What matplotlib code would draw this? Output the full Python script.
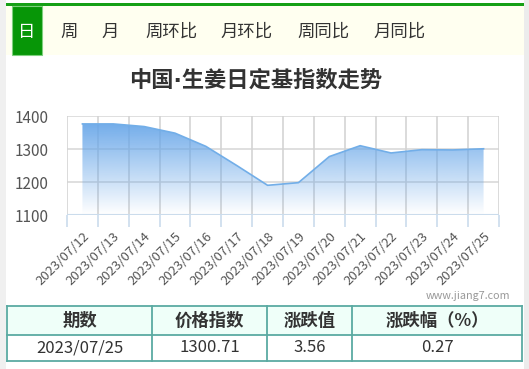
import numpy as np
import matplotlib
matplotlib.use('Agg')
import matplotlib.pyplot as plt
from matplotlib.patches import Rectangle

plt.rcParams['font.family'] = ['Noto Sans CJK SC', 'DejaVu Sans']

# data
dates = ['2023/07/12', '2023/07/13', '2023/07/14', '2023/07/15', '2023/07/16',
         '2023/07/17', '2023/07/18', '2023/07/19', '2023/07/20', '2023/07/21',
         '2023/07/22', '2023/07/23', '2023/07/24', '2023/07/25']
values = [1376, 1376, 1368, 1348, 1308, 1250, 1190, 1198, 1277, 1310,
          1288, 1298, 1297.15, 1300.71]
tabs = ['日', '周', '月', '周环比', '月环比', '周同比', '月同比']
tab_x = [27, 69, 110, 171, 247, 323, 400]
title = '中国·生姜日定基指数走势'
table_head = ['期数', '价格指数', '涨跌值', '涨跌幅（%）']
table_row = ['2023/07/25', '1300.71', '3.56', '0.27']
col_edges = [7, 152, 267, 352, 522]

W, H = 529, 369
fig = plt.figure(figsize=(W / 100, H / 100), dpi=100)
fig.patch.set_facecolor('white')

# background layer in pixel coords
bg = fig.add_axes([0, 0, 1, 1])
bg.set_xlim(0, W)
bg.set_ylim(H, 0)
bg.axis('off')

bg.add_patch(Rectangle((0, 0), 6, H, color='#f0f0f0', lw=0))
bg.add_patch(Rectangle((524, 0), 5, H, color='#ececec', lw=0))
bg.add_patch(Rectangle((6, 3), 518, 2.5, color='#16a016', lw=0))
bg.add_patch(Rectangle((6, 5.5), 518, 49.5, color='#fffff0', lw=0))
bg.add_patch(Rectangle((12, 5.5), 30, 49.5, facecolor='#079607', edgecolor='#7ed07e', lw=0.8))
for i, t in enumerate(tabs):
    bg.text(tab_x[i], 32, t, ha='center', va='center', fontsize=12.5,
            color='white' if i == 0 else '#333333')

# narrow middle dot from DejaVu, CJK glyphs fall back to Noto
bg.text(256, 80, title, ha='center', va='center', fontsize=16,
        fontweight='bold', color='#333333',
        family=['DejaVu Sans', 'Noto Sans CJK SC'])
bg.text(510, 296, 'www.jiang7.com', ha='right', va='center', fontsize=7.8,
        color='#999999')

# table
top, mid, bot = 306, 335, 361
bg.add_patch(Rectangle((col_edges[0], top), col_edges[-1] - col_edges[0], mid - top,
                       facecolor='#effff9', lw=0))
tc = '#5aaaa2'
for y in (top, mid, bot):
    bg.plot([col_edges[0], col_edges[-1]], [y, y], color=tc, lw=1.3)
for x in col_edges:
    bg.plot([x, x], [top, bot], color=tc, lw=1.3)
for i in range(4):
    cx = (col_edges[i] + col_edges[i + 1]) / 2
    bg.text(cx, (top + mid) / 2, table_head[i], ha='center', va='center',
            fontsize=12.5, fontweight='bold', color='#333333')
    bg.text(cx, (mid + bot) / 2, table_row[i], ha='center', va='center',
            fontsize=12, color='#333333')

# chart
x0, x1, ytop, ybot = 67, 499, 116, 215
ax = fig.add_axes([x0 / W, 1 - ybot / H, (x1 - x0) / W, (ybot - ytop) / H])
ax.patch.set_alpha(0)
xs = np.arange(len(values))
ax.set_xlim(-0.5, len(values) - 0.5)
ax.set_ylim(1100, 1400)

for y in [1100, 1200, 1300, 1400]:
    ax.axhline(y, color='#d9d9d9', lw=1.2, zorder=1)
for b in np.arange(-0.5, len(values), 1):
    ax.axvline(b, color='#d4d4d4', lw=1.2, zorder=1)
ax.axhline(1100, color='#cbdcec', lw=1.5, zorder=1)

poly = ax.fill_between(xs, values, 1100, color='none', lw=0)
grad = np.linspace(0, 1, 256).reshape(-1, 1)
rgba = np.zeros((256, 1, 4))
rgba[..., 0] = 0.40
rgba[..., 1] = 0.65
rgba[..., 2] = 0.91
rgba[..., 3] = grad * 0.92
img = ax.imshow(rgba, extent=[-0.5, len(values) - 0.5, 1100, max(values)],
                origin='lower', aspect='auto', zorder=2)
img.set_clip_path(poly.get_paths()[0], transform=ax.transData)
ax.plot(xs, values, color='#72aee8', lw=1.2, zorder=3)

for s in ax.spines.values():
    s.set_visible(False)
ax.set_yticks([1100, 1200, 1300, 1400])
ax.tick_params(axis='y', length=0, pad=13.5, labelsize=11, labelcolor='#555555')
ax.set_xticks(xs)
ax.set_xticklabels(dates, rotation=45, ha='right', rotation_mode='anchor')
ax.tick_params(axis='x', which='major', length=0, pad=10.5, labelsize=9.5,
               labelcolor='#555555')
ax.set_xticks(np.arange(-0.5, len(values), 1), minor=True)
ax.tick_params(axis='x', which='minor', length=8.5, width=1.2, color='#cbdcec')

fig.savefig('out.png', dpi=100)
